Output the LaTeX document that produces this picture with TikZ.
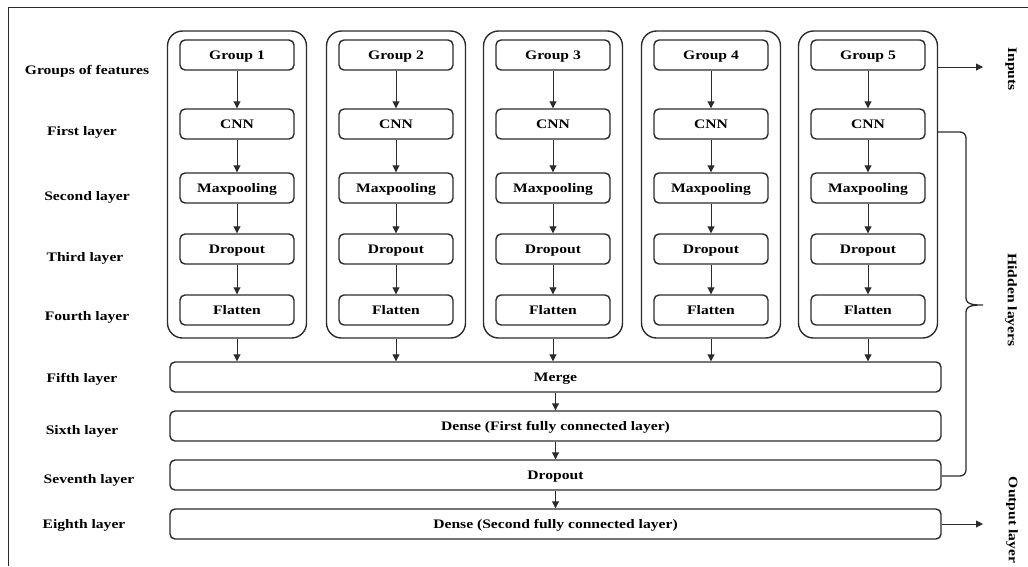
\documentclass[tikz,border=0pt]{standalone}
\usepackage{fontspec}
\setmainfont{Liberation Serif}[FakeStretch=1.2]
\usetikzlibrary{arrows.meta}
\definecolor{ln}{HTML}{2b2b2b}
\tikzset{
  every picture/.style={x=1pt,y=-1pt},
  container/.style={draw=ln,line width=1.4pt,rounded corners=15pt},
  inbox/.style={draw=ln,line width=1.4pt,rounded corners=5pt,minimum width=114pt,minimum height=30pt,inner sep=0pt,text height=9pt,text depth=0pt,font=\fontsize{13}{15}\selectfont\bfseries},
  wide/.style={draw=ln,line width=1.4pt,rounded corners=5pt,minimum width=771pt,minimum height=30pt,inner sep=0pt,text height=9pt,text depth=0pt,font=\fontsize{13}{15}\selectfont\bfseries},
  lbl/.style={font=\fontsize{13}{15}\selectfont\bfseries,inner sep=0pt},
  rlbl/.style={font=\fontsize{13}{15}\selectfont\bfseries,inner sep=0pt,rotate=-90},
  arr/.style={draw=ln,line width=0.9pt,-{Triangle[length=7pt,width=7pt]}},
  frame/.style={draw=ln,line width=1pt}
}
\begin{document}
\begin{tikzpicture}
\useasboundingbox (0,0) rectangle (1028,566);
\coordinate (ftl) at (8,7);
\draw[frame] (8,566) -- (ftl) -- (1028,7);
% containers
\foreach \i/\cx in {1/237,2/396,3/553,4/711,5/868}{
  \node[container,minimum width=139pt,minimum height=307pt,inner sep=0pt] (c\i) at (\cx,184.5) {};
  \node[inbox] (g\i) at (\cx,55) {Group \i};
  \node[inbox] (n\i) at (\cx,124) {CNN};
  \node[inbox] (m\i) at (\cx,188) {Maxpooling};
  \node[inbox] (d\i) at (\cx,249) {Dropout};
  \node[inbox] (f\i) at (\cx,310) {Flatten};
  \draw[arr] (g\i) -- (n\i);
  \draw[arr] (n\i) -- (m\i);
  \draw[arr] (m\i) -- (d\i);
  \draw[arr] (d\i) -- (f\i);
}
\node[wide] (merge) at (555.5,377) {Merge};
\node[wide] (dense1) at (555.5,426) {Dense (First fully connected layer)};
\node[wide] (drop) at (555.5,475) {Dropout};
\node[wide] (dense2) at (555.5,524) {Dense (Second fully connected layer)};
\foreach \i in {1,...,5}{ \draw[arr] (c\i.south) -- (c\i.south |- merge.north); }
\draw[arr] (merge) -- (dense1);
\draw[arr] (dense1) -- (drop);
\draw[arr] (drop) -- (dense2);
% left labels
\node[lbl] (l0) at (87,71) {Groups of features};
\node[lbl] (l1) at (82,132) {First layer};
\node[lbl] (l2) at (87,197) {Second layer};
\node[lbl] (l3) at (85,258) {Third layer};
\node[lbl] (l4) at (87,317) {Fourth layer};
\node[lbl] (l5) at (82,379) {Fifth layer};
\node[lbl] (l6) at (82,431) {Sixth layer};
\node[lbl] (l7) at (89,480) {Seventh layer};
\node[lbl] (l8) at (84,525) {Eighth layer};
% right
\coordinate (inend) at (983,67);
\draw[arr] (c5.east |- inend) -- (inend);
\node[rlbl] (inputs) at (1011,69) {Inputs};
\coordinate (outend) at (983,524);
\draw[arr] (dense2.east) -- (outend);
\node[rlbl] (outl) at (1012,520) {Output layer};
\coordinate (bt) at (c5.east |- 0,132);
\coordinate (bb) at (drop.east |- 0,476);
\draw[draw=ln,line width=1.3pt] (bt) -- (960,132) to[out=0,in=90] (966,138) -- (966,298) to[out=-90,in=180] (983,305) to[out=180,in=90] (966,312) -- (966,470) to[out=-90,in=0] (960,476) -- (bb);
\node[rlbl] (hid) at (1011,300) {Hidden layers};
\end{tikzpicture}
\end{document}
